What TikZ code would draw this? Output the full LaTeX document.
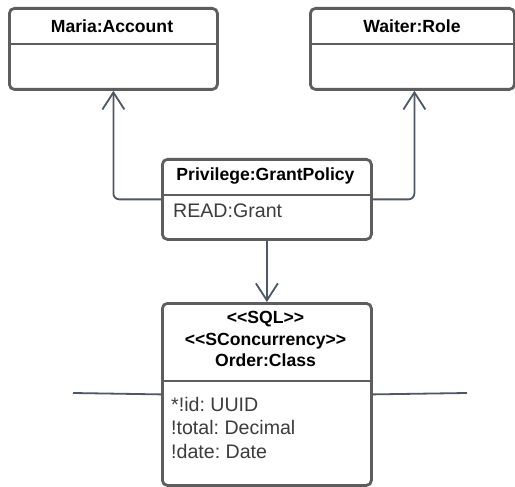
\documentclass[tikz,border=0pt]{standalone}
\usepackage{fontspec}
\setmainfont[Ligatures=NoCommon]{Liberation Sans}
\frenchspacing
\usetikzlibrary{arrows.meta}
\definecolor{boxline}{HTML}{5E5E5E}
\definecolor{wire}{HTML}{4E5763}
\definecolor{bodytext}{HTML}{3C3C3C}
\tikzset{
  umlbox/.style={draw=boxline, line width=2.8pt, rounded corners=5pt, fill=white,
    anchor=north west, inner sep=0pt},
  divider/.style={draw=boxline, line width=2.8pt},
  title/.style={font=\fontsize{17.6}{21.5}\selectfont\bfseries, text=black, align=center, inner sep=0pt},
  attr/.style={font=\fontsize{19.6}{23.5}\selectfont, text=bodytext, align=left, anchor=north west, inner sep=0pt},
  conn/.style={draw=wire, line width=1.8pt, rounded corners=6pt},
  openarrow/.style={-{Straight Barb[length=17pt,width=22pt,line width=1.8pt]}}
}
\newcommand{\lguil}{<{}<}
\newcommand{\rguil}{>{}>}
\begin{document}
\begin{tikzpicture}[x=1pt,y=-1pt]
  \useasboundingbox[fill=white] (0,0) rectangle (515,487);

  % class boxes
  \node[umlbox, minimum width=208pt, minimum height=81pt] (maria) at (8,7) {};
  \node[umlbox, minimum width=204pt, minimum height=81pt] (waiter) at (309,7) {};
  \node[umlbox, minimum width=209pt, minimum height=80pt] (pri) at (161,158) {};
  \node[umlbox, minimum width=209pt, minimum height=182pt] (order) at (161,302) {};

  % compartment dividers
  \draw[divider] ([yshift=-37pt]maria.north west) -- ([yshift=-37pt]maria.north east);
  \draw[divider] ([yshift=-37pt]waiter.north west) -- ([yshift=-37pt]waiter.north east);
  \draw[divider] ([yshift=-37pt]pri.north west) -- ([yshift=-37pt]pri.north east);
  \draw[divider] ([yshift=-79pt]order.north west) -- ([yshift=-79pt]order.north east);

  % titles
  \node[title] (mariat) at (112,26) {Maria:Account};
  \node[title] (waitert) at (412,26) {Waiter:Role};
  \node[title] (prit) at (265.5,176) {Privilege:GrantPolicy};
  \node[title] (ordert) at (265.5,339) {\lguil SQL\rguil\\\lguil SConcurrency\rguil\\Order:Class};

  % attributes
  \node[attr] (pria) at (173,204) {READ:Grant};
  \node[attr] (ordera) at (171,397) {*!id: UUID\\!total: Decimal\\!date: Date};

  % connectors
  \draw[conn, openarrow] (pri.west) -| (maria.south);
  \draw[conn, openarrow] (pri.east) -| ([xshift=2pt]waiter.south);
  \draw[conn, openarrow] (pri.south) -- (order.north);

  \coordinate (lend) at (73,393);
  \coordinate (rend) at (467,393);
  \draw[conn] (order.west) -- (lend);
  \draw[conn] (order.east) -- (rend);
\end{tikzpicture}
\end{document}
